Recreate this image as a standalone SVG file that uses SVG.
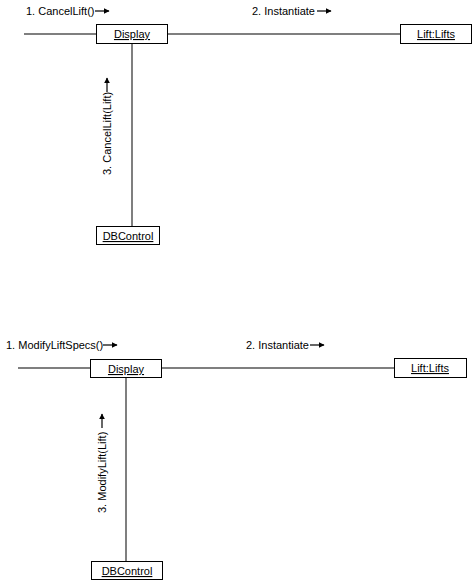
<svg xmlns="http://www.w3.org/2000/svg" width="473" height="582" viewBox="0 0 473 582">
  <style>
    .obj { fill: #fff; stroke: #000; stroke-width: 1; }
    .name { font-family: "Liberation Sans", Arial, sans-serif; font-size: 11px; text-anchor: middle; text-decoration: underline; fill: #000; }
    .msg { font-family: "Liberation Sans", Arial, sans-serif; font-size: 11px; fill: #000; }
    .link { stroke: #555; stroke-width: 1.5; fill: none; }
    .dir { stroke: #000; stroke-width: 1.2; fill: none; marker-end: url(#head); }
  </style>
  <defs>
    <marker id="head" viewBox="0 0 10 10" refX="9" refY="5" markerWidth="6" markerHeight="6" markerUnits="userSpaceOnUse" orient="auto">
      <path d="M0,0 L10,5 L0,10 z" fill="#000"/>
    </marker>
  </defs>

  <!-- links -->
  <g id="connectors">
    <line class="link" x1="24" y1="34" x2="96" y2="34"/>
    <line class="link" x1="167" y1="34" x2="400" y2="34"/>
    <line class="link" x1="132" y1="44" x2="132" y2="226"/>

    <line class="link" x1="18" y1="368" x2="90" y2="368"/>
    <line class="link" x1="162" y1="368" x2="394" y2="368"/>
    <line class="link" x1="126" y1="378" x2="126" y2="561"/>

    <!-- message direction arrows -->
    <line class="dir" x1="95" y1="11" x2="109" y2="11"/>
    <line class="dir" x1="317" y1="11" x2="331" y2="11"/>
    <line class="dir" x1="107" y1="92" x2="107" y2="78"/>

    <line class="dir" x1="103" y1="345" x2="117" y2="345"/>
    <line class="dir" x1="310" y1="345" x2="324" y2="345"/>
    <line class="dir" x1="102" y1="428" x2="102" y2="414"/>
  </g>

  <!-- message labels -->
  <g id="labels">
    <text class="msg" x="26" y="15">1. CancelLift()</text>
    <text class="msg" x="252" y="15">2. Instantiate</text>
    <text class="msg" transform="translate(111,175) rotate(-90)">3. CancelLift(Lift)</text>

    <text class="msg" x="6" y="349">1. ModifyLiftSpecs()</text>
    <text class="msg" x="246" y="349">2. Instantiate</text>
    <text class="msg" transform="translate(106,513) rotate(-90)">3. ModifyLift(Lift)</text>
  </g>

  <!-- cancel scenario objects -->
  <g id="display1">
    <rect class="obj" x="96.5" y="24.5" width="71" height="19"/>
    <text class="name" x="132" y="38">Display</text>
  </g>
  <g id="lifts1">
    <rect class="obj" x="400.5" y="24.5" width="71" height="19"/>
    <text class="name" x="436" y="38">Lift:Lifts</text>
  </g>
  <g id="dbcontrol1">
    <rect class="obj" x="96.5" y="226.5" width="63" height="18"/>
    <text class="name" x="128" y="240">DBControl</text>
  </g>

  <!-- modify scenario objects -->
  <g id="display2">
    <rect class="obj" x="90.5" y="359.5" width="71" height="18"/>
    <text class="name" x="126" y="373">Display</text>
  </g>
  <g id="lifts2">
    <rect class="obj" x="394.5" y="358.5" width="72" height="19"/>
    <text class="name" x="430" y="372">Lift:Lifts</text>
  </g>
  <g id="dbcontrol2">
    <rect class="obj" x="91.5" y="561.5" width="71" height="18"/>
    <text class="name" x="127" y="575">DBControl</text>
  </g>
</svg>
